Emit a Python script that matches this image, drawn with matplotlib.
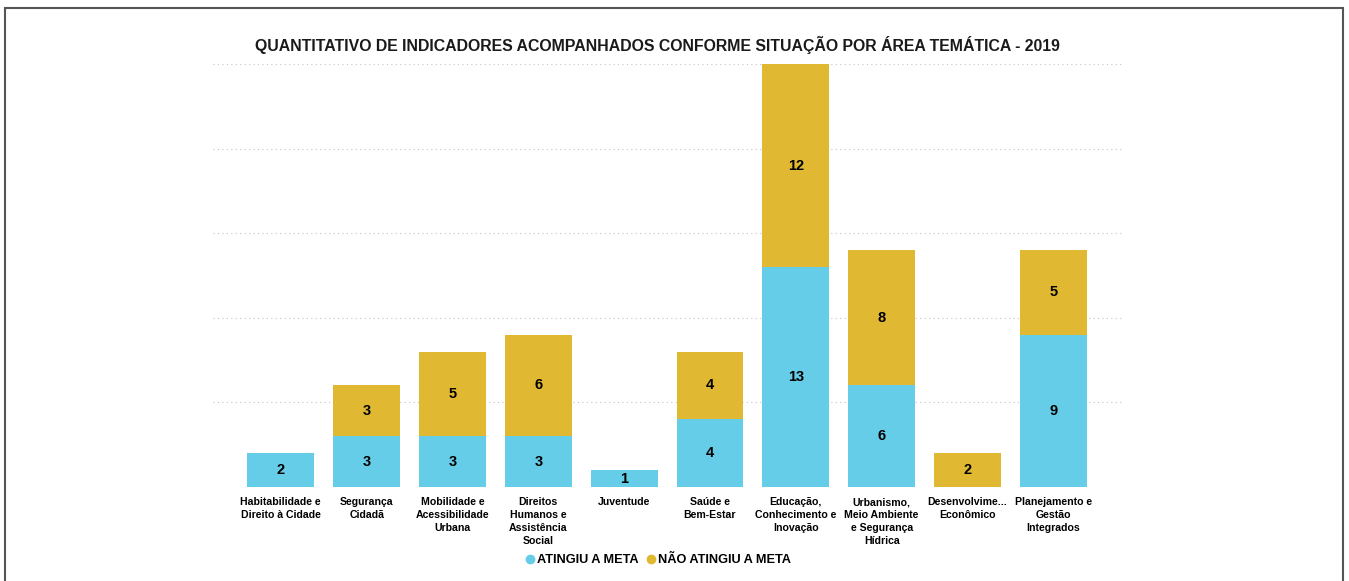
import matplotlib
matplotlib.use("Agg")
import matplotlib.pyplot as plt
from matplotlib.patches import Rectangle
from matplotlib.lines import Line2D

categories = ["Habitabilidade e\nDireito à Cidade", "Segurança\nCidadã", "Mobilidade e\nAcessibilidade\nUrbana",
              "Direitos\nHumanos e\nAssistência\nSocial", "Juventude", "Saúde e\nBem-Estar",
              "Educação,\nConhecimento e\nInovação", "Urbanismo,\nMeio Ambiente\ne Segurança\nHídrica",
              "Desenvolvime...\nEconômico", "Planejamento e\nGestão\nIntegrados"]
atingiu = [2, 3, 3, 3, 1, 4, 13, 6, 0, 9]
nao_atingiu = [0, 3, 5, 6, 0, 4, 12, 8, 2, 5]

blue = "#66CDE8"
gold = "#E0B832"

fig = plt.figure(figsize=(13.49, 5.81), dpi=100)
plt.rcParams['font.family'] = ['Liberation Sans', 'DejaVu Sans']

# frame
fig.add_artist(Rectangle((5/1349, -0.1), (1343-5)/1349, (581-8)/581 + 0.1, transform=fig.transFigure,
                         fill=False, edgecolor="#555555", linewidth=1.5))

ax = fig.add_axes([213/1349, 1 - 487/581, (1122-213)/1349, (487-64)/581])
x = list(range(len(categories)))
w = 0.78
ax.bar(x, atingiu, width=w, color=blue, zorder=2)
ax.bar(x, nao_atingiu, width=w, bottom=atingiu, color=gold, zorder=2)

for i in x:
    if atingiu[i] > 0:
        ax.text(i, atingiu[i] / 2, str(atingiu[i]), ha="center", va="center",
                fontsize=10.5, fontweight="bold", color="black", zorder=3)
    if nao_atingiu[i] > 0:
        ax.text(i, atingiu[i] + nao_atingiu[i] / 2, str(nao_atingiu[i]), ha="center", va="center",
                fontsize=10.5, fontweight="bold", color="black", zorder=3)

ax.set_xlim(-0.79, 9.80)
ax.set_ylim(0, 25)
ax.set_yticks([0, 5, 10, 15, 20, 25])
ax.yaxis.grid(True, linestyle=(0, (1, 3)), color="#c4c4c4", linewidth=0.8, zorder=0)
ax.tick_params(axis="y", left=False, labelleft=False)
ax.tick_params(axis="x", bottom=False, pad=4)
ax.set_xticks(x)
ax.set_xticklabels(categories, fontsize=7.6, fontweight="bold", linespacing=1.35)
for s in ax.spines.values():
    s.set_visible(False)

fig.text(657/1349, 1 - 45/581, "QUANTITATIVO DE INDICADORES ACOMPANHADOS CONFORME SITUAÇÃO POR ÁREA TEMÁTICA - 2019",
         ha="center", va="center", fontsize=11.4, fontweight="bold", color="#1a1a1a")

handles = [Line2D([], [], marker="o", linestyle="", color=blue, markersize=6),
           Line2D([], [], marker="o", linestyle="", color=gold, markersize=6)]
fig.legend(handles, ["ATINGIU A META", "NÃO ATINGIU A META"], loc="center",
           bbox_to_anchor=(658/1349, 1 - 560/581), ncol=2, frameon=False,
           prop={"weight": "bold", "size": 9.2}, handletextpad=0.1, columnspacing=0.6, handlelength=0.8)

fig.savefig("out.png", dpi=100)
